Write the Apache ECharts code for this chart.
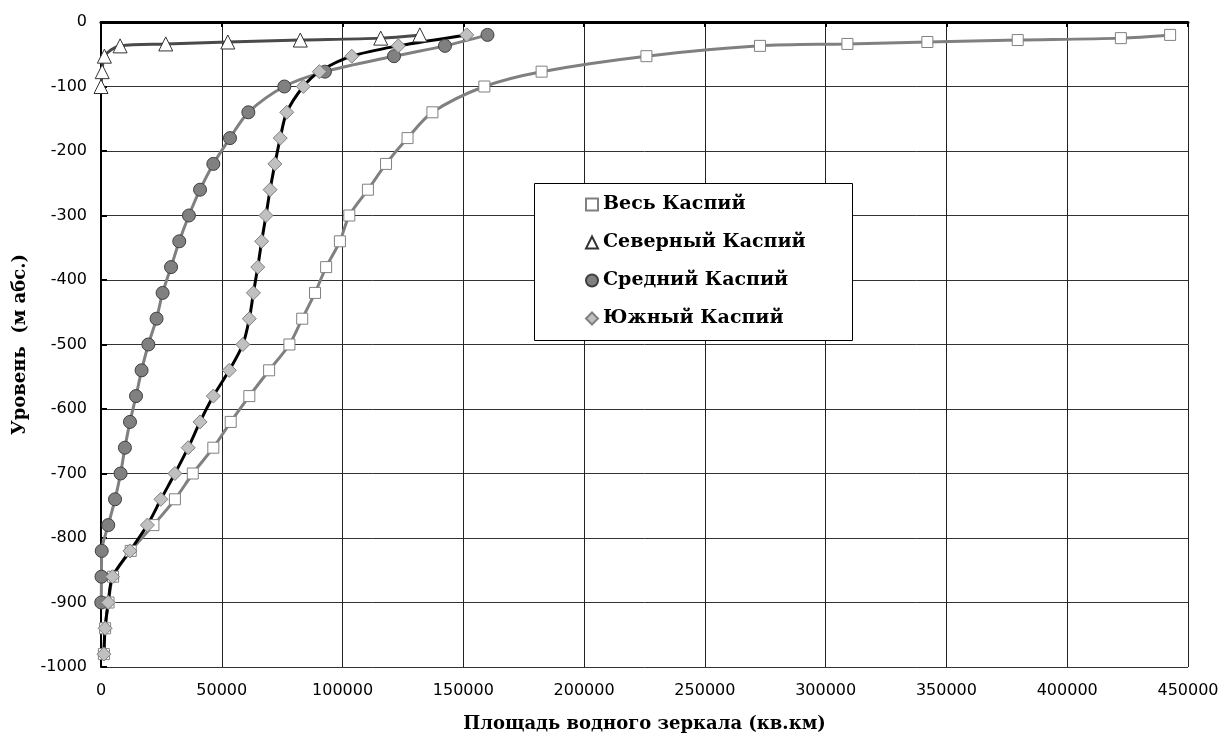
<!DOCTYPE html>
<html>
<head>
<meta charset="utf-8">
<script src="https://cdn.jsdelivr.net/npm/echarts@6/dist/echarts.min.js"></script>
<style>html,body{margin:0;padding:0;background:#fff}#c{width:1223px;height:742px}</style>
</head>
<body>
<div id="c"></div>
<script>
// Series names
const seriesNames = ['Весь Каспий', 'Северный Каспий', 'Средний Каспий', 'Южный Каспий'];
// Whole Caspian: levels (m) and areas (km2)
const wholeLevels = [-20, -25, -28, -31, -34, -37, -53, -77, -100, -140, -180, -220, -260, -300, -340, -380, -420, -460, -500, -540, -580, -620, -660, -700, -740, -780, -820, -860, -900, -940, -980];
const wholeAreas  = [442600, 422200, 379500, 342100, 309000, 272800, 225800, 182400, 158700, 137200, 126900, 118000, 110500, 102800, 98900, 93200, 88600, 83300, 78000, 69600, 61400, 53700, 46500, 38000, 30600, 21700, 12300, 5000, 3100, 1700, 1200];
// Northern Caspian
const northLevels = [-20, -25, -28, -31, -34, -37, -53, -77, -100];
const northAreas  = [132000, 115800, 82500, 52500, 26800, 7900, 1400, 500, 0];
// Middle Caspian
const middleLevels = [-20, -37, -53, -77, -100, -140, -180, -220, -260, -300, -340, -380, -420, -460, -500, -540, -580, -620, -660, -700, -740, -780, -820, -860, -900];
const middleAreas  = [160000, 142400, 121300, 92700, 75900, 61000, 53400, 46500, 41000, 36400, 32400, 29000, 25500, 23000, 19600, 16800, 14500, 12000, 9900, 8100, 5800, 3000, 300, 200, 100];
// Southern Caspian
const southLevels = [-20, -37, -53, -77, -100, -140, -180, -220, -260, -300, -340, -380, -420, -460, -500, -540, -580, -620, -660, -700, -740, -780, -820, -860, -900, -940, -980];
const southAreas  = [151400, 123100, 103800, 90400, 83750, 76900, 74200, 72000, 70000, 68300, 66500, 64900, 63100, 61400, 58700, 53100, 46500, 41000, 36100, 30600, 24800, 19200, 12000, 4800, 3000, 1700, 1200];
// Axis titles
const xTitle = 'Площадь водного зеркала (кв.км)';
const yTitle = 'Уровень  (м абс.)';

function pairs(xs, ys) { return xs.map((x, i) => [x, ys[i]]); }
function plain(v) { return String(v); }

const chart = echarts.init(document.getElementById('c'), null, {renderer: 'canvas'});
const serifBold = {fontFamily: 'DejaVu Serif', fontWeight: 'bold', fontSize: 18, color: '#000'};
const legendText = {fontFamily: 'DejaVu Serif', fontWeight: 'bold', fontSize: 19, color: '#000'};
const sans = {fontFamily: 'DejaVu Sans', fontSize: 16, color: '#000'};

chart.setOption({
  animation: false,
  backgroundColor: '#fff',
  grid: {left: 101, right: 35, top: 22, bottom: 75, containLabel: false},
  graphic: [{
    type: 'rect', left: 534, top: 183, z: 50,
    shape: {width: 318, height: 157},
    style: {fill: '#fff', stroke: '#000', lineWidth: 1}
  }],
  legend: {
    orient: 'vertical',
    left: 534, top: 183, z: 60,
    padding: [12, 10, 10, 51],
    itemGap: 19,
    itemWidth: 12, itemHeight: 12,
    textStyle: legendText,
    data: [
      {name: seriesNames[0], icon: 'rect'},
      {name: seriesNames[1], icon: 'triangle'},
      {name: seriesNames[2], icon: 'circle'},
      {name: seriesNames[3], icon: 'diamond'}
    ]
  },
  xAxis: [
    {
      type: 'value', position: 'bottom', min: 0, max: 450000, interval: 50000,
      axisLine: {show: false}, axisTick: {show: false},
      axisLabel: Object.assign({margin: 16, formatter: plain}, sans),
      splitLine: {show: true, lineStyle: {color: '#222', width: 1}},
      name: xTitle, nameLocation: 'middle', nameGap: 48, nameTextStyle: serifBold
    },
    {
      type: 'value', position: 'top', min: 0, max: 450000, interval: 50000,
      axisLine: {show: true, onZero: false, lineStyle: {color: '#000', width: 3}},
      axisTick: {show: true, inside: true, length: 5, lineStyle: {color: '#000', width: 2}},
      axisLabel: {show: false}, splitLine: {show: false}
    }
  ],
  yAxis: {
    type: 'value', min: -1000, max: 0, interval: 100,
    axisLine: {show: true, onZero: false, lineStyle: {color: '#000', width: 2}},
    axisTick: {show: true, inside: true, length: 6, lineStyle: {color: '#000', width: 2}},
    axisLabel: Object.assign({margin: 14, formatter: plain}, sans),
    splitLine: {show: true, lineStyle: {color: '#333', width: 1}},
    name: yTitle, nameLocation: 'middle', nameGap: 72, nameRotate: 90, nameTextStyle: serifBold
  },
  series: [
    {
      name: seriesNames[0], type: 'line', data: pairs(wholeAreas, wholeLevels), smooth: 0.3,
      symbol: 'rect', symbolSize: 11,
      lineStyle: {color: '#808080', width: 3},
      itemStyle: {color: '#fff', borderColor: '#808080', borderWidth: 1}
    },
    {
      name: seriesNames[1], type: 'line', data: pairs(northAreas, northLevels), smooth: 0.3,
      symbol: 'triangle', symbolSize: 14,
      lineStyle: {color: '#4a4a4a', width: 3},
      itemStyle: {color: '#fff', borderColor: '#333', borderWidth: 1}
    },
    {
      name: seriesNames[2], type: 'line', data: pairs(middleAreas, middleLevels), smooth: 0.3,
      symbol: 'circle', symbolSize: 13,
      lineStyle: {color: '#808080', width: 3},
      itemStyle: {color: '#808080', borderColor: '#404040', borderWidth: 1}
    },
    {
      name: seriesNames[3], type: 'line', data: pairs(southAreas, southLevels), smooth: 0.3,
      symbol: 'diamond', symbolSize: 14,
      lineStyle: {color: '#000', width: 3},
      itemStyle: {color: '#c0c0c0', borderColor: '#808080', borderWidth: 1}
    }
  ]
});
</script>
</body>
</html>
